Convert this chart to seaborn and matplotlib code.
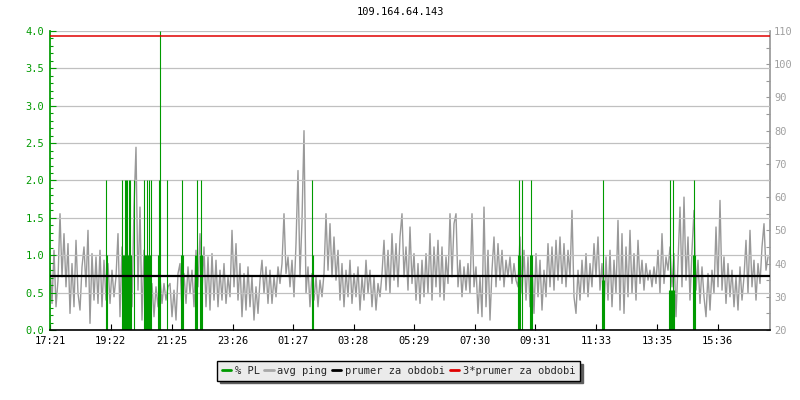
import numpy as np
import pandas as pd
import seaborn as sns
import matplotlib.pyplot as plt
from matplotlib.lines import Line2D

# casy na ose x (od 17:21, 24 h)
tick_labels = ["17:21", "19:22", "21:25", "23:26", "01:27", "03:28",
               "05:29", "07:30", "09:31", "11:33", "13:35", "15:36"]
period_minutes = 1440
step_minutes = 4

# avg ping [ms], jeden vzorek po 4 minutach
avg_ping = [
    40, 28, 44, 27, 35, 55, 36, 49, 33, 46, 25, 40, 27, 47, 31, 26, 39, 45, 33, 50,
    22, 43, 29, 42, 28, 44, 27, 41, 29, 40, 28, 38, 30, 36, 49, 24, 45, 28, 47, 30,
    46, 27, 57, 75, 32, 57, 23, 44, 26, 35, 29, 34, 24, 33, 27, 36, 28, 34, 29, 33,
    34, 24, 32, 23, 37, 40, 26, 37, 28, 39, 31, 38, 27, 44, 33, 49, 31, 45, 27, 42,
    26, 43, 29, 41, 27, 38, 29, 40, 28, 36, 30, 50, 33, 46, 29, 40, 24, 37, 26, 39,
    27, 36, 23, 33, 25, 35, 41, 31, 39, 28, 38, 28, 36, 30, 39, 34, 40, 55, 37, 42,
    33, 41, 30, 46, 68, 36, 53, 80, 31, 39, 27, 37, 29, 36, 27, 35, 30, 37, 55, 38,
    52, 36, 48, 35, 44, 29, 40, 27, 38, 30, 41, 28, 37, 30, 39, 26, 36, 29, 41, 31,
    38, 27, 36, 26, 34, 30, 37, 47, 32, 44, 31, 49, 35, 46, 33, 48, 55, 36, 45, 32,
    51, 34, 43, 29, 40, 28, 41, 30, 43, 31, 49, 29, 45, 33, 47, 30, 45, 29, 42, 34,
    55, 36, 52, 55, 33, 41, 30, 39, 32, 40, 31, 55, 33, 39, 25, 36, 24, 57, 27, 44,
    23, 38, 48, 33, 46, 35, 44, 33, 41, 36, 42, 34, 40, 35, 33, 48, 31, 44, 29, 42,
    27, 40, 25, 43, 30, 41, 26, 38, 30, 46, 33, 45, 32, 47, 35, 48, 34, 46, 33, 44,
    36, 56, 30, 25, 38, 29, 41, 31, 43, 30, 40, 33, 46, 36, 48, 32, 40, 26, 42, 29,
    44, 27, 41, 31, 53, 26, 49, 25, 45, 30, 50, 31, 43, 29, 47, 34, 41, 32, 40, 35,
    38, 33, 39, 34, 44, 31, 49, 34, 42, 38, 45, 33, 43, 24, 40, 57, 33, 60, 35, 48,
    29, 44, 56, 32, 41, 28, 39, 30, 24, 37, 26, 38, 31, 51, 33, 59, 32, 42, 28, 40,
    30, 38, 27, 36, 26, 39, 29, 36, 47, 31, 50, 33, 41, 29, 40, 34, 45, 52, 38, 42,
]

# ztraty paketu [%] - minuty od zacatku a hodnota
pl_minutes = [111, 113, 143, 145, 147, 149, 151, 153, 155, 157, 159, 161, 167,
              187, 189, 191, 193, 195, 197, 199, 201, 215, 217, 219, 233,
              261, 263, 265, 289, 291, 293, 299, 301, 303, 523, 525,
              935, 937, 939, 943, 959, 961, 963, 1103, 1105, 1107,
              1237, 1239, 1241, 1243, 1245, 1247, 1285, 1287, 1289]
pl_values = [2.0, 1.0, 2.0, 1.0, 1.0, 2.0, 2.0, 2.0, 1.0, 2.0, 2.0, 1.0, 2.0,
             2.0, 1.0, 1.0, 2.0, 1.0, 2.0, 1.0, 2.0, 1.0, 2.0, 4.0, 2.0,
             1.0, 2.0, 1.0, 1.0, 1.0, 2.0, 1.0, 2.0, 1.0, 2.0, 1.0,
             1.0, 2.0, 1.0, 2.0, 1.0, 2.0, 1.0, 0.67, 2.0, 0.67,
             0.53, 2.0, 0.53, 0.53, 2.0, 0.53, 1.0, 2.0, 1.0]

period_mean = 36.2  # prumer za obdobi [ms]

GREEN = "#009a00"
GREY = "#999999"
FS = 7.5

sns.set_theme(style="white")
plt.rcParams["font.family"] = ["DejaVu Sans Mono"]
plt.rcParams["font.size"] = FS

df = pd.DataFrame({"minute": np.arange(len(avg_ping)) * step_minutes,
                   "ping": avg_ping})

fig = plt.figure(figsize=(8, 4), dpi=100)
ax = fig.add_axes([50 / 800, 70 / 400, 720 / 800, 299 / 400])
ax2 = ax.twinx()
ax3 = ax.twinx()

# grey ping line at the bottom
sns.lineplot(data=df, x="minute", y="ping", ax=ax2, color=GREY, lw=1.0)
ax2.set_ylim(20, 110)
ax2.set_yticks(np.arange(20, 111, 10))
ax2.set_yticks(np.arange(25, 110, 10), minor=True)

# packet loss impulses above it
ax.vlines(pl_minutes, 0, pl_values, color=GREEN, lw=0.8)
ax.set_ylim(0, 4.0)
ax.set_yticks(np.arange(0, 4.01, 0.5))
ax.set_yticks(np.arange(0, 4.01, 0.1), minor=True)
ax.set_yticklabels([f"{v:.1f}" for v in np.arange(0, 4.01, 0.5)])
ax.grid(axis="y", color="#c0c0c0", lw=0.9)
ax.set_zorder(ax2.get_zorder() + 1)
ax.patch.set_visible(False)

# mean lines on top
ax3.axhline(period_mean, color="black", lw=1.6)
ax3.axhline(3 * period_mean, color="#e00000", lw=1.1)
ax3.set_ylim(20, 110)
ax3.set_zorder(ax.get_zorder() + 1)
ax3.patch.set_visible(False)
ax3.axis("off")

# x axis ticks from the clock labels
tick_pos = []
start = int(tick_labels[0][:2]) * 60 + int(tick_labels[0][3:])
for t in tick_labels:
    m = int(t[:2]) * 60 + int(t[3:]) - start
    tick_pos.append(m % 1440)
ax.set_xlim(0, period_minutes)
ax.set_xticks(tick_pos)
ax.set_xticklabels(tick_labels)
ax.set_xlabel("")
ax2.set_xlabel("")
ax2.set_ylabel("")

for a in (ax, ax2):
    for s in a.spines.values():
        s.set_visible(False)
ax.spines["left"].set_visible(True)
ax.spines["left"].set_color(GREEN)
ax.spines["bottom"].set_visible(True)
ax.spines["bottom"].set_color("black")
ax.spines["bottom"].set_linewidth(1.2)
ax2.spines["right"].set_visible(True)
ax2.spines["right"].set_color(GREY)

ax.tick_params(axis="y", which="major", direction="in", length=4, width=0.8,
               color=GREEN, labelcolor=GREEN, left=True, pad=4, labelsize=FS)
ax.tick_params(axis="y", which="minor", direction="in", length=2.5, width=0.8,
               color=GREEN, left=True)
ax.tick_params(axis="x", direction="in", length=4, width=0.8, color="black",
               labelcolor="black", bottom=True, pad=4, labelsize=FS)
ax2.tick_params(axis="y", which="both", direction="in", length=3, width=0.8,
                color=GREY, labelcolor="#a0a0a0", right=True, pad=3,
                labelsize=FS)

fig.text(0.5, 1 - 12 / 400, "109.164.64.143", ha="center", va="center",
         color="black", fontsize=FS)

handles = [Line2D([], [], color=GREEN, lw=2),
           Line2D([], [], color="#a8a8a8", lw=2),
           Line2D([], [], color="black", lw=2),
           Line2D([], [], color="#e00000", lw=2)]
labels = ["% PL", "avg ping", "prumer za obdobi", "3*prumer za obdobi"]
leg = fig.legend(handles, labels, loc="center", bbox_to_anchor=(0.498, 1 - 371 / 400),
                 ncol=4, frameon=True, fancybox=False,
                 shadow={"color": "#606060", "alpha": 1},
                 handlelength=0.9, handletextpad=0.35, columnspacing=0.45,
                 borderpad=0.45, borderaxespad=0, fontsize=FS)
leg.get_frame().set_facecolor("#ebebeb")
leg.get_frame().set_edgecolor("black")
leg.get_frame().set_linewidth(1.0)
leg.get_frame().set_alpha(1)

fig.savefig("out.png", dpi=100)
